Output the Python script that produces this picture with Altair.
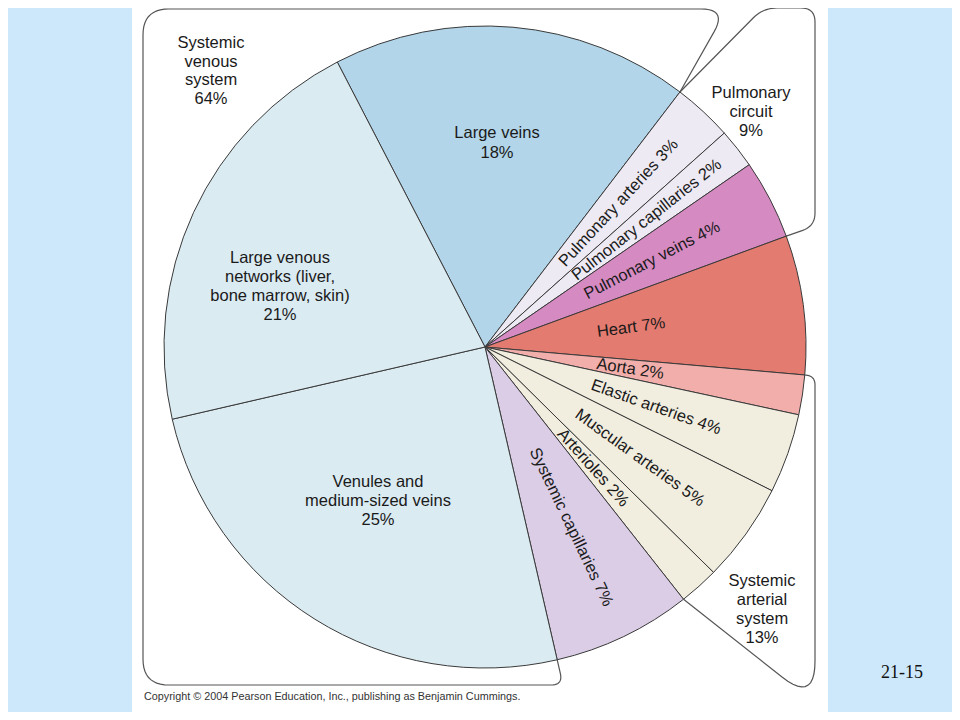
import math
import numpy as np
import pandas as pd
import altair as alt

# ---------------- data ----------------
slices = [
    "Large veins",
    "Pulmonary arteries",
    "Pulmonary capillaries",
    "Pulmonary veins",
    "Heart",
    "Aorta",
    "Elastic arteries",
    "Muscular arteries",
    "Arterioles",
    "Systemic capillaries",
    "Venules and medium-sized veins",
    "Large venous networks (liver, bone marrow, skin)",
]
percent = [18, 3, 2, 4, 7, 2, 4, 5, 2, 7, 25, 21]
groups = ["venous", "pulmonary", "pulmonary", "pulmonary", "heart",
          "arterial", "arterial", "arterial", "arterial",
          "capillaries", "venous", "venous"]
radial = [False, True, True, True, True, True, True, True, True, True, False, False]

group_titles = {
    "venous": "Systemic\nvenous\nsystem",
    "pulmonary": "Pulmonary\ncircuit",
    "arterial": "Systemic\narterial\nsystem",
}
wrapped = {
    "Large veins": "Large veins",
    "Large venous networks (liver, bone marrow, skin)": "Large venous\nnetworks (liver,\nbone marrow, skin)",
    "Venules and medium-sized veins": "Venules and\nmedium-sized veins",
}
copyright_text = "Copyright \u00a9 2004 Pearson Education, Inc., publishing as Benjamin Cummings."
slide_no = "21-15"

# ---------------- styles / layout ----------------
palette = ["#b2d5e9", "#eeeaf3", "#eeeaf3", "#d68ac2", "#e47b70", "#f1aeaa",
           "#f1eddf", "#f1eddf", "#f1eddf", "#dbcde6", "#dbebf2", "#dbebf2"]
BG = "#cce8fa"
FONT = "Liberation Sans"
TXT = "#1a1a1a"
LINE = "#3a3a3a"
OFF = 8                      # page margin: image coords -> chart coords
W, H = 944, 704
CX, CY, R = 485, 347, 321    # pie centre / radius in image coords
START_DEG = -27.4            # angle of the first boundary (clockwise from north)
FS = 16.5

def X(v):
    return v - OFF

def edge(deg, r=R):
    a = math.radians(deg)
    return (CX + r * math.sin(a), CY - r * math.cos(a))

cum = np.concatenate([[0], np.cumsum(percent)])
bound = START_DEG + cum * 3.6          # boundary angles derived from the data

df = pd.DataFrame({"slice": slices, "pct": percent, "idx": range(len(slices))})
df["mid"] = START_DEG + (cum[:-1] + df["pct"] / 2) * 3.6
df["ang"] = (df["mid"] - 90) % 360
df["label"] = [f"{s} {p}%" if r else "" for s, p, r in zip(slices, percent, radial)]

gsum = {g: sum(p for p, gg in zip(percent, groups) if gg == g) for g in group_titles}

# ---------------- bracket outlines ----------------
def rounded(verts, radii, n=12):
    pts = [verts[0]]
    for i in range(1, len(verts) - 1):
        P, V, N = (np.array(verts[i - 1], float), np.array(verts[i], float),
                   np.array(verts[i + 1], float))
        d = radii[i]
        a = V + (P - V) / np.linalg.norm(P - V) * d
        b = V + (N - V) / np.linalg.norm(N - V) * d
        for t in np.linspace(0, 1, n):
            pts.append(tuple((1 - t) ** 2 * a + 2 * (1 - t) * t * V + t ** 2 * b))
    pts.append(verts[-1])
    return pts

i_lv = 1                      # end of large veins
i_pv = 4                      # end of pulmonary veins
i_hr = 5                      # end of heart
i_ar = 9                      # end of arterioles
i_sc = 10                     # end of systemic capillaries

def radial_to_y(deg, y):
    x0, y0 = edge(deg)
    a = math.radians(deg)
    t = (y - y0) / (-math.cos(a))
    return (x0 + t * math.sin(a), y)

TOP, BOT, LEFT, RIGHT = 9, 685, 143, 815
ven = rounded([edge(bound[i_sc]), radial_to_y(bound[i_sc], BOT), (LEFT, BOT), (LEFT, TOP),
               (727, TOP), edge(bound[i_lv])],
              [0, 12, 26, 26, 26, 0])
pul = rounded([edge(bound[i_lv]), (763, 8), (RIGHT, 8), (RIGHT, 226), edge(bound[i_pv])],
              [0, 14, 14, 13, 0])
art = rounded([edge(bound[i_hr]), (RIGHT, edge(bound[i_hr])[1] + 1), (RIGHT, 703), edge(bound[i_ar])],
              [0, 9, 42, 0])

rows = []
for name, pts in (("venous", ven), ("pulmonary", pul), ("arterial", art)):
    for k, (x, y) in enumerate(pts):
        rows.append({"b": name, "i": k, "x": X(x), "y": X(y)})
bdf = pd.DataFrame(rows)

dummy = pd.DataFrame({"k": [0]})

panel = alt.Chart(dummy).mark_rect(color="white").encode(
    x=alt.value(X(132)), x2=alt.value(X(828)), y=alt.value(0), y2=alt.value(H))

brackets = alt.Chart(bdf).mark_line(stroke="#555555", strokeWidth=1.2).encode(
    x=alt.X("x:Q", scale=None), y=alt.Y("y:Q", scale=None),
    detail="b:N", order="i:Q")

theta = alt.Theta("pct:Q", stack=True,
                  scale=alt.Scale(range=[math.radians(START_DEG),
                                         math.radians(START_DEG) + 2 * math.pi]))
base = alt.Chart(df).encode(theta=theta, order=alt.Order("idx:Q"))

pie = base.mark_arc(outerRadius=R, stroke=LINE, strokeWidth=1).encode(
    color=alt.Color("slice:N", scale=alt.Scale(domain=slices, range=palette), legend=None),
    x=alt.value(X(CX)), y=alt.value(X(CY)))

rtext = base.mark_text(radius=113, align="left", baseline="middle", font=FONT,
                       fontSize=FS, color=TXT).encode(
    text="label:N", angle=alt.Angle("ang:Q", scale=None), detail="slice:N",
    x=alt.value(X(CX)), y=alt.value(X(CY)))

def label(text, x, y, size=FS, font=FONT, color=TXT, align="center", lh=19):
    # y is the centre of the first line
    return alt.Chart(dummy).mark_text(align=align, baseline="middle", font=font,
                                      fontSize=size, color=color, lineBreak="\n",
                                      lineHeight=lh).encode(
        x=alt.value(X(x)), y=alt.value(X(y)), text=alt.value(text))

pct = dict(zip(slices, percent))
layers = [
    panel, brackets, pie, rtext,
    label(f"{wrapped[slices[0]]}\n{pct[slices[0]]}%", 497, 133, lh=20),
    label(f"{wrapped[slices[11]]}\n{pct[slices[11]]}%", 280, 258),
    label(f"{wrapped[slices[10]]}\n{pct[slices[10]]}%", 378, 482),
    label(f"{group_titles['venous']}\n{gsum['venous']}%", 211, 43, lh=18.7),
    label(f"{group_titles['pulmonary']}\n{gsum['pulmonary']}%", 751, 93),
    label(f"{group_titles['arterial']}\n{gsum['arterial']}%", 762, 581),
    label(copyright_text, 144, 697, size=10.8, color="#333333", align="left"),
    label(slide_no, 902, 673, size=18, font="Liberation Serif", color="#111111"),
]

chart = alt.layer(*layers).properties(
    width=W, height=H, background=BG, padding=0,
    autosize=alt.AutoSizeParams(type="none"),
).configure_view(stroke=None)

chart.save("out.html", embed_options={"renderer": "svg", "actions": False})
